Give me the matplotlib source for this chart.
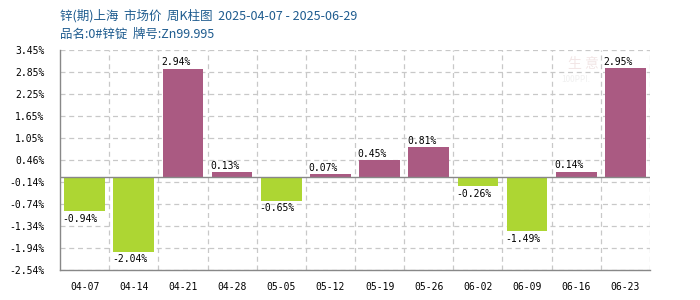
import matplotlib
matplotlib.use("Agg")
import matplotlib.pyplot as plt
import numpy as np

plt.rcParams['font.family'] = ['Noto Sans CJK SC', 'DejaVu Sans']

categories = ["04-07", "04-14", "04-21", "04-28", "05-05", "05-12",
              "05-19", "05-26", "06-02", "06-09", "06-16", "06-23"]
values = [-0.94, -2.04, 2.94, 0.13, -0.65, 0.07, 0.45, 0.81, -0.26, -1.49, 0.14, 2.95]
ytick_labels = ["-2.54%", "-1.94%", "-1.34%", "-0.74%", "-0.14%", "0.46%",
                "1.05%", "1.65%", "2.25%", "2.85%", "3.45%"]
ymin, ymax = -2.54, 3.45
title1 = "锌(期)上海  市场价  周K柱图  2025-04-07 - 2025-06-29"
title2 = "品名:0#锌锭  牌号:Zn99.995"

pos_color = "#aa5a82"
neg_color = "#add633"
grid_color = "#c8c8c8"
axis_color = "#888888"

fig = plt.figure(figsize=(7, 3), dpi=100)
ax = fig.add_axes([60/700, 30/300, 590/700, 220/300])

x = np.arange(len(categories))
colors = [pos_color if v >= 0 else neg_color for v in values]
bw = 0.83
ax.bar(x, values, width=bw, color=colors, zorder=3)

ax.set_xlim(-0.5, len(categories) - 0.5)
ax.set_ylim(ymin, ymax)
yt = np.linspace(ymin, ymax, len(ytick_labels))
ax.set_yticks(yt)
ax.set_yticklabels(ytick_labels, family='DejaVu Sans Mono', fontsize=7)
ax.set_xticks(x)
ax.set_xticklabels(categories, family='DejaVu Sans Mono', fontsize=7)
ax.tick_params(axis='y', length=0, pad=11)
ax.tick_params(axis='x', length=0, pad=9)

# grid
for y in yt:
    ax.axhline(y, color=grid_color, lw=0.9, ls=(0, (4, 3)), zorder=1)
for xi in np.arange(0.5, len(categories), 1.0):
    ax.axvline(xi, color=grid_color, lw=0.9, ls=(0, (4, 3)), zorder=1)
ax.axhline(0, color=axis_color, lw=1.0, zorder=4)

for s in ['top', 'right']:
    ax.spines[s].set_visible(False)
for s in ['left', 'bottom']:
    ax.spines[s].set_color(axis_color)
    ax.spines[s].set_linewidth(1.0)

# value labels
for xi, v in zip(x, values):
    lbl = f"{v:.2f}%"
    if v >= 0:
        ax.annotate(lbl, (xi - bw/2, v), xytext=(-1, 1), textcoords='offset points',
                    ha='left', va='bottom', fontsize=7, family='DejaVu Sans Mono', zorder=5)
    else:
        ax.annotate(lbl, (xi - bw/2, v), xytext=(-1, -2), textcoords='offset points',
                    ha='left', va='top', fontsize=7, family='DejaVu Sans Mono', zorder=5)

# faint watermark
fig.text(568/700, 1 - 64/300, "生 意", fontsize=10, color="#f2e6e6", ha='left', va='center')
fig.text(561/700, 1 - 80/300, "100PPI.", fontsize=6, color="#f0f0f0", ha='left', va='center')

fig.text(60/700, 1 - 16/300, title1, fontsize=9, color="#1f5c8f", ha='left', va='center')
fig.text(60/700, 1 - 34/300, title2, fontsize=9, color="#1f5c8f", ha='left', va='center')

fig.savefig("out.png", dpi=100)
